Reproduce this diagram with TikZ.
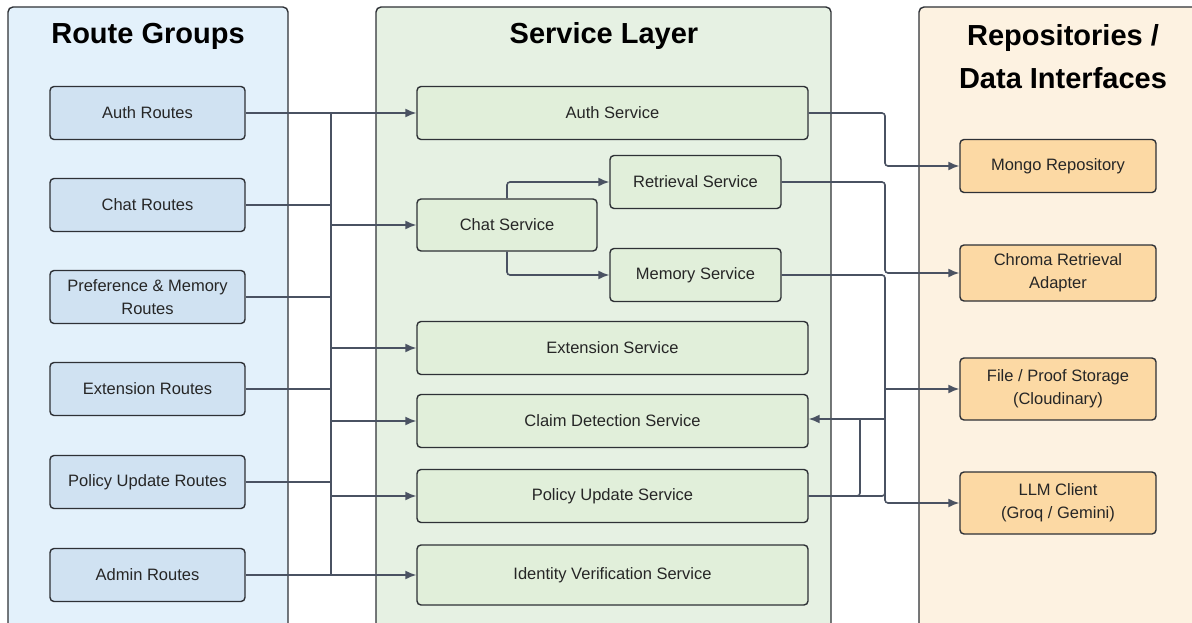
\documentclass[tikz,border=0pt]{standalone}
\usepackage{fontspec}
\setmainfont{Liberation Sans}
\usepackage{xcolor}
\usetikzlibrary{arrows.meta, positioning}

\definecolor{routebg}{HTML}{E3F1FB}
\definecolor{routefill}{HTML}{D0E2F2}
\definecolor{servicebg}{HTML}{E6F1E3}
\definecolor{servicefill}{HTML}{E1EFDA}
\definecolor{repobg}{HTML}{FDF2E1}
\definecolor{repofill}{HTML}{FCD9A4}
\definecolor{edgegray}{HTML}{2E3136}
\definecolor{linkgray}{HTML}{4A5262}

\begin{document}
\begin{tikzpicture}[
            x=1pt, y=-1pt,
            panel/.style={
                draw=edgegray,
                line width=1.4pt,
                rounded corners=5pt
            },
            title/.style={
                font=\fontsize{29}{43}\selectfont\bfseries,
                align=center,
                text=black
            },
            block/.style={
                rectangle,
                draw=edgegray,
                line width=1.4pt,
                rounded corners=4pt,
                align=center,
                text=black!85,
                font=\fontsize{16.5}{23}\selectfont,
                inner sep=0pt
            },
            route/.style={block, fill=routefill, minimum width=195pt, minimum height=53pt},
            service/.style={block, fill=servicefill, minimum width=391pt, minimum height=53pt},
            small/.style={block, fill=servicefill, minimum width=171pt, minimum height=53pt},
            repo/.style={block, fill=repofill, minimum width=196pt, minimum height=53pt},
            line/.style={
                draw=linkgray,
                line width=1.6pt,
                -{Latex[length=11pt, width=9pt]},
                rounded corners=3pt
            },
            wire/.style={
                draw=linkgray,
                line width=1.6pt,
                rounded corners=3pt
            }
        ]
            \useasboundingbox (0,0) rectangle (1192,623);

            % --- COLUMNAS ---
            \filldraw [panel, fill=routebg] (8,7) rectangle (288,640);
            \filldraw [panel, fill=servicebg] (376,7) rectangle (831,640);
            \filldraw [panel, fill=repobg] (919,7) rectangle (1200,640);

            \node [title] (t_routes) at (148,36) {Route Groups};
            \node [title] (t_service) at (604,36) {Service Layer};
            \node [title] (t_repo) at (1063,57) {Repositories /\\Data Interfaces};

            % --- NODOS RUTAS ---
            \node [route] (auth_r) at (147.5,113) {Auth Routes};
            \node [route] (chat_r) at (147.5,205) {Chat Routes};
            \node [route] (pref_r) at (147.5,297) {Preference \& Memory\\Routes};
            \node [route] (ext_r) at (147.5,389) {Extension Routes};
            \node [route] (policy_r) at (147.5,482) {Policy Update Routes};
            \node [route] (admin_r) at (147.5,575) {Admin Routes};

            % --- NODOS SERVICIOS ---
            \node [service] (auth_s) at (612.5,113) {Auth Service};
            \node [block, fill=servicefill, minimum width=180pt, minimum height=52pt] (chat_s) at (507,225) {Chat Service};
            \node [small] (retr_s) at (695.5,182) {Retrieval Service};
            \node [small] (mem_s) at (695.5,275) {Memory Service};
            \node [service] (ext_s) at (612.5,348) {Extension Service};
            \node [service] (claim_s) at (612.5,421) {Claim Detection Service};
            \node [service] (policy_s) at (612.5,496) {Policy Update Service};
            \node [service, minimum height=60pt] (ident_s) at (612.5,575) {Identity Verification Service};

            % --- NODOS REPOSITORIOS ---
            \node [repo] (mongo) at (1058,166) {Mongo Repository};
            \node [repo, minimum height=56pt] (chroma) at (1058,273) {Chroma Retrieval\\Adapter};
            \node [repo, minimum height=62pt] (storage) at (1058,389) {File / Proof Storage\\(Cloudinary)};
            \node [repo, minimum height=62pt] (llm) at (1058,503) {LLM Client\\(Groq / Gemini)};

            % --- PUNTOS DEL BUS ---
            \coordinate (bus_top) at (331,113);
            \coordinate (bus_bot) at (331,575);
            \coordinate (bus_r) at (885,275);
            \coordinate (bus_claim) at (885,419);

            % --- ENLACES RUTAS -> SERVICIOS ---
            \path [line] (auth_r) -- (auth_s);
            \path [line] (admin_r) -- (ident_s);
            \path [wire] (bus_top) -- (bus_bot);
            \path [wire] (chat_r.east) -- (chat_r.east -| bus_top);
            \path [wire] (pref_r.east) -- (pref_r.east -| bus_top);
            \path [wire] (ext_r.east) -- (ext_r.east -| bus_top);
            \path [wire] (policy_r.east) -- (policy_r.east -| bus_top);
            \path [line] (chat_s.west -| bus_top) -- (chat_s.west);
            \path [line] (ext_s.west -| bus_top) -- (ext_s.west);
            \path [line] (claim_s.west -| bus_top) -- (claim_s.west);
            \path [line] (policy_s.west -| bus_top) -- (policy_s.west);

            % --- ENLACES DENTRO DE SERVICIOS ---
            \path [line] (chat_s.north) |- (retr_s.west);
            \path [line] (chat_s.south) |- (mem_s.west);

            % --- ENLACES SERVICIOS -> REPOSITORIOS ---
            \path [line] (auth_s.east) -| (885,140) |- (mongo.west);
            \path [line] (retr_s.east) -| (885,230) |- (chroma.west);
            \path [line] (mem_s.east) -| (885,470) |- (llm.west);
            \path [line] (bus_r |- storage.west) -- (storage.west);
            \path [line] (bus_claim) -- (claim_s.east |- bus_claim);
            \path [wire] (policy_s.east) -| (885,460);
            \path [wire] (policy_s.east) -| (bus_claim -| 860,0);
        \end{tikzpicture}
\end{document}
